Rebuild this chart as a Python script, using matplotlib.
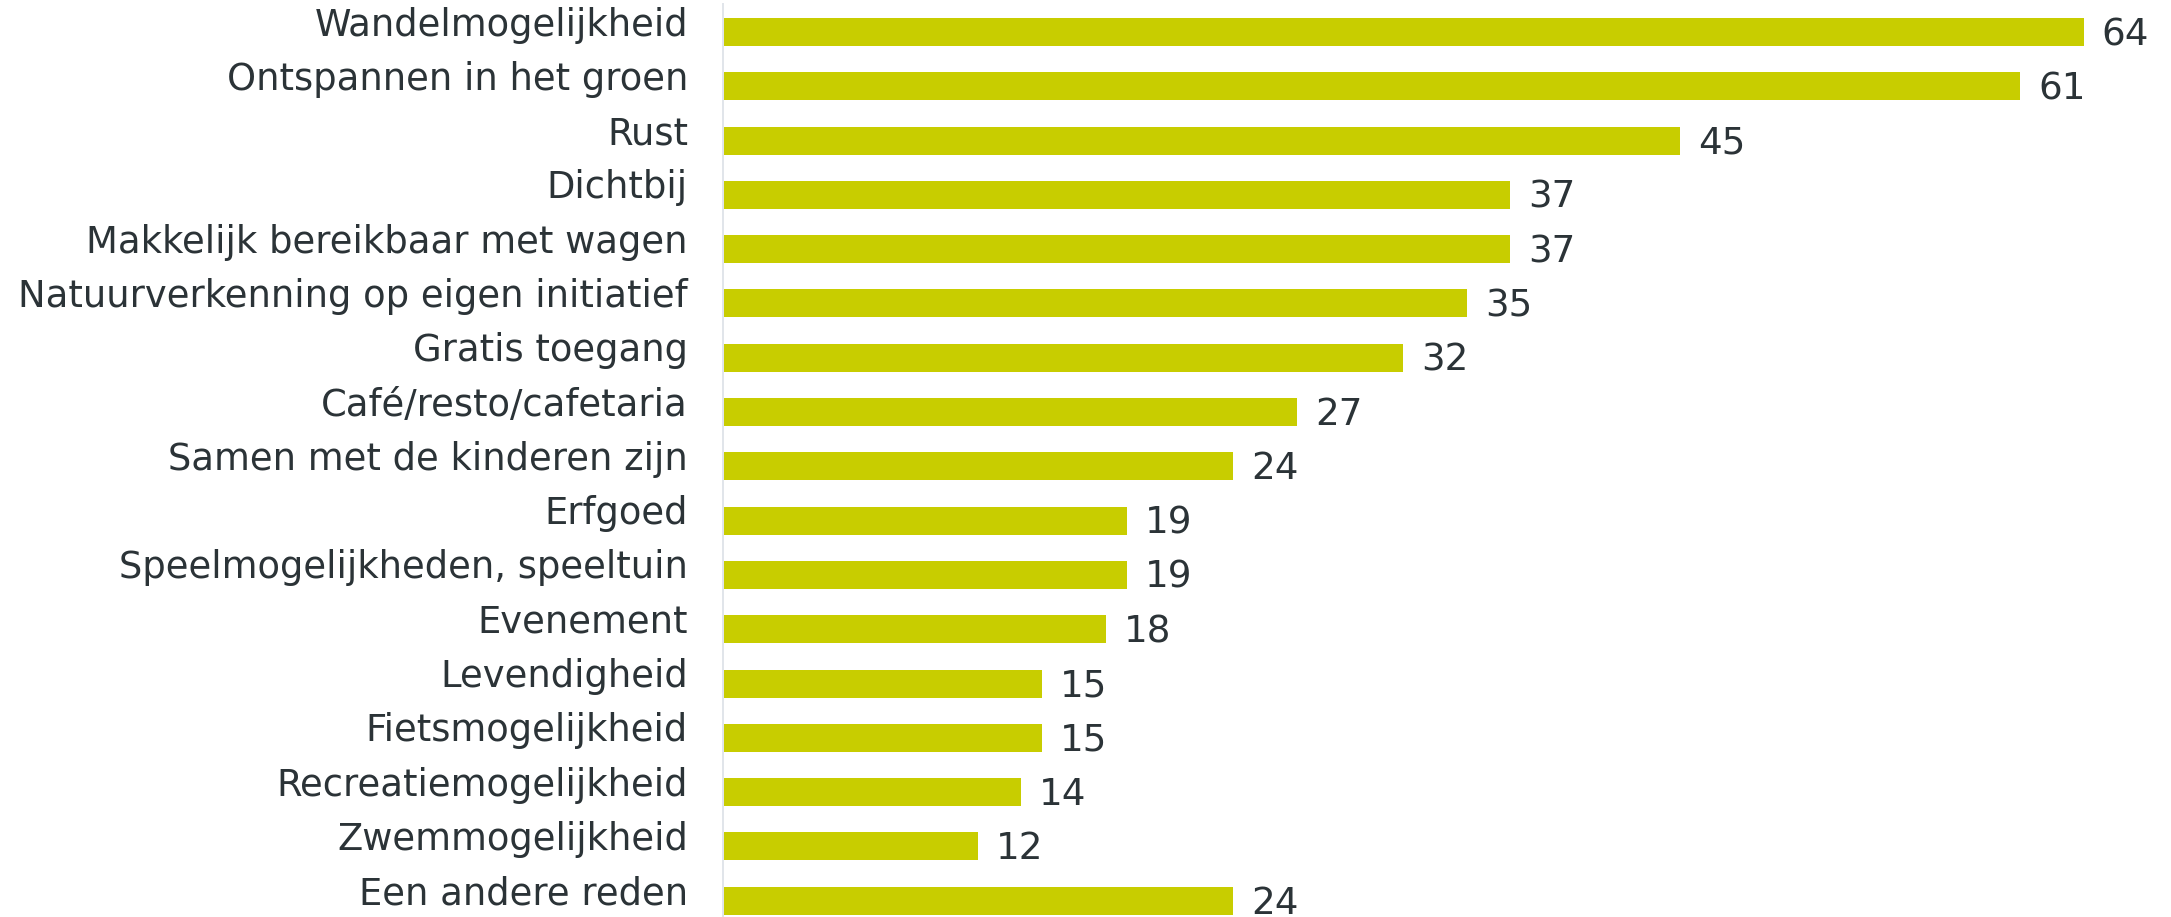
import numpy as np
import matplotlib
matplotlib.use("Agg")
import matplotlib.pyplot as plt

# redenen voor bezoek (%)
categories = ['Wandelmogelijkheid', 'Ontspannen in het groen', 'Rust', 'Dichtbij',
              'Makkelijk bereikbaar met wagen', 'Natuurverkenning op eigen initiatief',
              'Gratis toegang', 'Café/resto/cafetaria', 'Samen met de kinderen zijn',
              'Erfgoed', 'Speelmogelijkheden, speeltuin', 'Evenement', 'Levendigheid',
              'Fietsmogelijkheid', 'Recreatiemogelijkheid', 'Zwemmogelijkheid',
              'Een andere reden']
values = [64, 61, 45, 37, 37, 35, 32, 27, 24, 19, 19, 18, 15, 15, 14, 12, 24]

bar_col = '#c8cd00'
txt_col = '#2b3337'
px = 0.72  # points per pixel at dpi 100

plt.rcParams['font.family'] = ['DejaVu Sans']
fig = plt.figure(figsize=(21.71, 9.17), dpi=100)
left = 723 / 2171
ax = fig.add_axes([left, 0, 1 - left, 913 / 917])

y = np.arange(len(categories))
ax.barh(y, values, height=0.516, color=bar_col, align='center')
ax.set_xlim(0, 68.1)
ax.set_ylim(16.30, -0.516)

for s in ['top', 'right', 'bottom']:
    ax.spines[s].set_visible(False)
ax.spines['left'].set_color('#e1e5ea')
ax.spines['left'].set_linewidth(2 * px)
ax.set_xticks([])
ax.set_yticks([])

for i, (c, v) in enumerate(zip(categories, values)):
    ax.annotate(c, xy=(0, i), xycoords=ax.get_yaxis_transform(),
                xytext=(-35 * px, -3.5 * px), textcoords='offset points',
                ha='right', va='baseline', fontsize=26.55, color=txt_col,
                annotation_clip=False)
    ax.annotate(str(v), xy=(v, i), xytext=(18 * px, 1.5 * px),
                textcoords='offset points', ha='left', va='center_baseline',
                fontsize=26.8, color=txt_col, annotation_clip=False)

fig.savefig('out.png', dpi=100)
